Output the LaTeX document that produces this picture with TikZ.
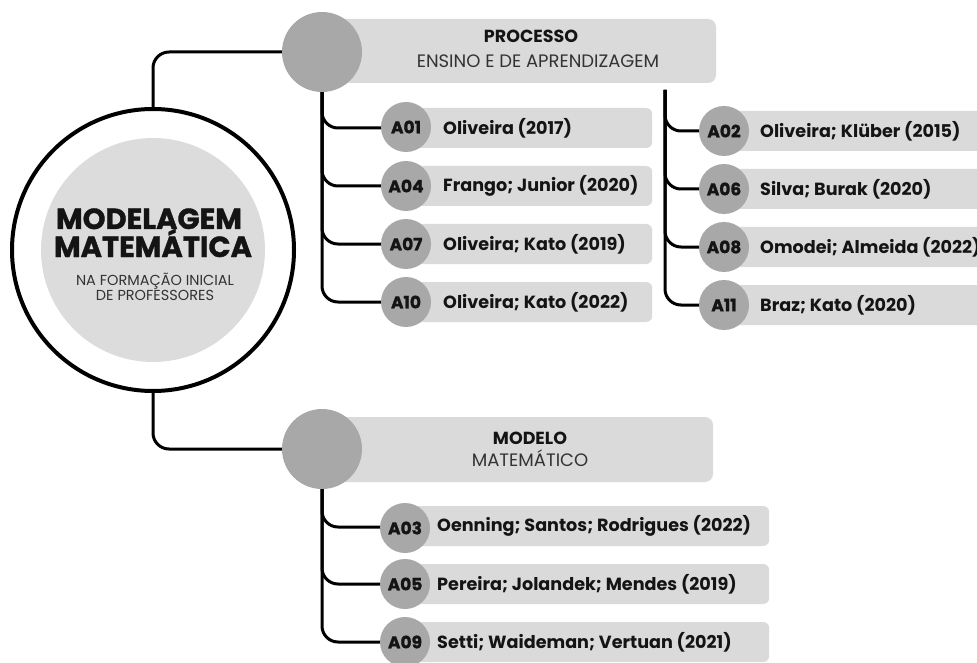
\documentclass[tikz,border=0pt]{standalone}
\usepackage{fontspec}
\setmainfont{Poppins}
\newfontfamily\heavyfont{Poppins}[BoldFeatures={FakeBold=1.2}]
\definecolor{dotgray}{HTML}{A8A8A8}
\definecolor{boxgray}{HTML}{DADADA}
\definecolor{innergray}{HTML}{DCDCDC}
\definecolor{ink}{HTML}{141414}
\definecolor{subink}{HTML}{333333}
\tikzset{
  conn/.style={line width=3pt, rounded corners=16pt},
  itemdot/.style={circle, fill=dotgray, minimum size=50pt, inner sep=0pt, text=ink, font=\heavyfont\bfseries\fontsize{17}{18}\selectfont},
  headdot/.style={circle, fill=dotgray, minimum size=80pt, inner sep=0pt},
  itembox/.style={rectangle, rounded corners=6pt, fill=boxgray, minimum height=40pt, inner sep=0pt, anchor=west},
  headbox/.style={rectangle, rounded corners=8pt, fill=boxgray, inner sep=0pt},
  itemtext/.style={anchor=west, inner sep=0pt, text=ink, font=\bfseries\fontsize{17.6}{18}\selectfont},
  headbold/.style={anchor=base, inner sep=0pt, text=ink, font=\bfseries\fontsize{17.5}{18}\selectfont},
  headreg/.style={anchor=base, inner sep=0pt, text=subink, font=\fontsize{18}{19}\selectfont},
  titletext/.style={anchor=base, inner sep=0pt, text=ink, font=\heavyfont\bfseries\fontsize{29}{30}\selectfont},
  subtext/.style={anchor=base, inner sep=0pt, text=subink, font=\fontsize{14.5}{15}\selectfont},
}
\begin{document}
\begin{tikzpicture}[x=1pt,y=-1pt]
\useasboundingbox (0,0) rectangle (977,663);
\clip (0,0) rectangle (977,663);
% main circle
\node[circle, draw=black, line width=4pt, minimum size=282pt, inner sep=0pt] (main) at (153,250) {};
\node[circle, fill=innergray, minimum size=224pt, inner sep=0pt] (inner) at (153,250) {};
\node[titletext] (t1) at (149,229) {MODELAGEM};
\node[titletext] (t2) at (153,257) {MATEMÁTICA};
\node[subtext] (t3) at (155,285) {NA FORMAÇÃO INICIAL};
\node[subtext] (t4) at (155,300) {DE PROFESSORES};

% header boxes
\node[headbox, minimum width=394pt, minimum height=64pt] (pbox) at (519,51) {};
\node[headbold] (ptitle) at (531,43) {PROCESSO};
\node[headreg] (psub) at (538,68) {ENSINO E DE APRENDIZAGEM};
\node[headbox, minimum width=391pt, minimum height=65pt] (mbox) at (517.5,449.5) {};
\node[headbold] (mtitle) at (530,444) {MODELO};
\node[headreg] (msub) at (530,466) {MATEMÁTICO};

% item boxes left
\node[itembox, minimum width=246pt] (b01) at (406,128) {};
\node[itembox, minimum width=246pt] (b04) at (406,186) {};
\node[itembox, minimum width=246pt] (b07) at (406,244) {};
\node[itembox, minimum width=246pt] (b10) at (406,302) {};
% right
\node[itembox, minimum width=290pt] (b02) at (724,131) {};
\node[itembox, minimum width=290pt] (b06) at (724,189) {};
\node[itembox, minimum width=290pt] (b08) at (724,247) {};
\node[itembox, minimum width=290pt] (b11) at (724,305) {};
% bottom
\node[itembox, minimum width=364pt] (b03) at (405,526) {};
\node[itembox, minimum width=364pt] (b05) at (405,584) {};
\node[itembox, minimum width=364pt] (b09) at (405,642) {};

% connectors
\coordinate (rtop) at (665,90);
\draw[conn] (main.north) |- (322,52);
\draw[conn] (main.south) |- (322,449);
\draw[conn] (322,52) |- (406,128);
\draw[conn] (322,52) |- (406,186);
\draw[conn] (322,52) |- (406,244);
\draw[conn] (322,52) |- (406,302);
\draw[conn] (rtop) |- (724,131);
\draw[conn] (rtop) |- (724,189);
\draw[conn] (rtop) |- (724,247);
\draw[conn] (rtop) |- (724,305);
\draw[conn] (322,449) |- (405,527);
\draw[conn] (322,449) |- (405,584);
\draw[conn] (322,449) |- (405,642);

% header dots
\node[headdot] (pdot) at (322,52) {};
\node[headdot] (mdot) at (322,449) {};

% item dots
\node[itemdot] (d01) at (406,127) {A01};
\node[itemdot] (d04) at (406,186) {A04};
\node[itemdot] (d07) at (406,244) {A07};
\node[itemdot] (d10) at (406,302) {A10};
\node[itemdot] (d02) at (724,131) {A02};
\node[itemdot] (d06) at (724,189) {A06};
\node[itemdot] (d08) at (724,247) {A08};
\node[itemdot] (d11) at (724,305) {A11};
\node[itemdot] (d03) at (405,528) {A03};
\node[itemdot] (d05) at (405,584) {A05};
\node[itemdot] (d09) at (405,642) {A09};

% item texts
\node[itemtext] (n01) at (443,128) {Oliveira (2017)};
\node[itemtext] (n04) at (443,186) {Frango; Junior (2020)};
\node[itemtext] (n07) at (443,244) {Oliveira; Kato (2019)};
\node[itemtext] (n10) at (443,302) {Oliveira; Kato (2022)};
\node[itemtext] (n02) at (760,131) {Oliveira; Klüber (2015)};
\node[itemtext] (n06) at (760,189) {Silva; Burak (2020)};
\node[itemtext] (n08) at (760,247) {Omodei; Almeida (2022)};
\node[itemtext] (n11) at (760,305) {Braz; Kato (2020)};
\node[itemtext] (n03) at (437,526) {Oenning; Santos; Rodrigues (2022)};
\node[itemtext] (n05) at (437,584) {Pereira; Jolandek; Mendes (2019)};
\node[itemtext] (n09) at (437,642) {Setti; Waideman; Vertuan (2021)};
\end{tikzpicture}
\end{document}
